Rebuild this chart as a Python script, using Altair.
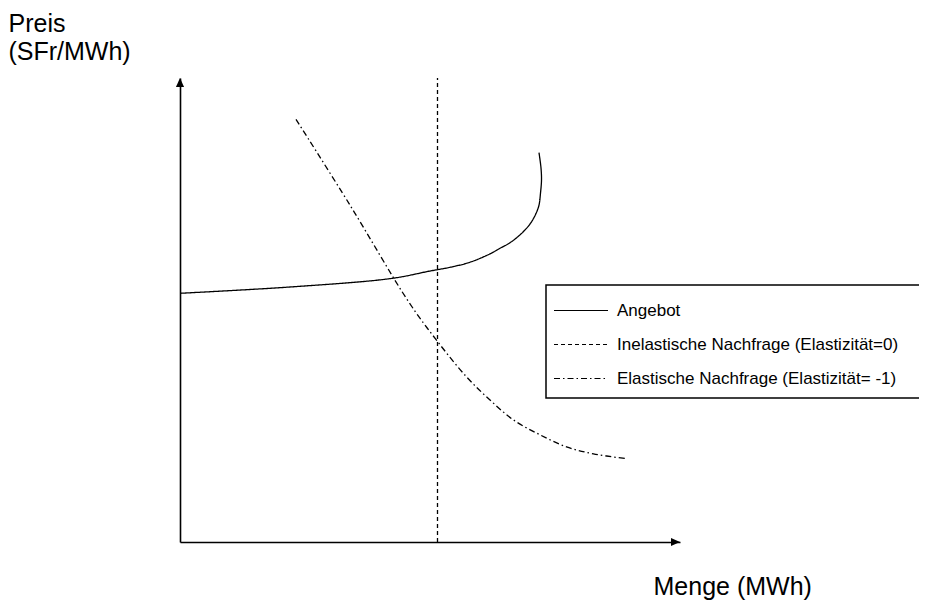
import altair as alt
import pandas as pd

# ---- data (arbitrary units: quantity 0-100, price 0-100) ----
series_names = [
    "Angebot",
    "Inelastische Nachfrage (Elastizität=0)",
    "Elastische Nachfrage (Elastizität= -1)",
]

supply_x = [0, 22.6, 42.3, 50.0, 54.0, 58.0, 62.0, 64.0, 66.0, 68.0, 69.3, 70.3, 71.2,
            71.8, 72.1, 72.3, 72.2, 71.8]
supply_y = [53.6, 55.0, 56.8, 58.4, 59.2, 60.3, 62.1, 63.3, 64.5, 66.2, 67.6, 69.0, 70.8,
            72.6, 75.2, 78.0, 80.6, 83.9]

inelastic_x = [51.5, 51.5]
inelastic_y = [0, 100]

elastic_x = [23.2, 34.0, 45.7, 51.3, 57.3, 62.0, 66.7, 72.0, 77.3, 82.7, 89.0]
elastic_y = [91.1, 72.6, 51.8, 43.5, 35.6, 30.6, 26.3, 23.1, 20.5, 19.0, 18.0]

arrow_dir = ["x", "y"]
arrow_x = [100, 0]
arrow_y = [0, 100]

dash_patterns = [[1, 0], [4, 3], [6, 3, 1.5, 3]]

x_title = "Menge (MWh)"
y_title = ["Preis", "(SFr/MWh)"]

# ---- tables ----
rows = []
for name, xs, ys in zip(series_names,
                        [supply_x, inelastic_x, elastic_x],
                        [supply_y, inelastic_y, elastic_y]):
    for i, (xv, yv) in enumerate(zip(xs, ys)):
        rows.append({"series": name, "idx": i, "q": xv, "p": yv})
lines_df = pd.DataFrame(rows)
arrows_df = pd.DataFrame({"dir": arrow_dir, "q": arrow_x, "p": arrow_y})

FONT = "Liberation Sans"

x_enc = alt.X(
    "q:Q",
    scale=alt.Scale(domain=[0, 100], nice=False, zero=False),
    axis=alt.Axis(
        title=x_title, labels=False, ticks=False, grid=False,
        domainColor="black", domainWidth=1.6,
        titleX=473, titleY=52, titleAlign="left", titleBaseline="alphabetic",
        titleFont=FONT, titleFontSize=25, titleFontWeight="normal", titleColor="black",
    ),
)
y_enc = alt.Y(
    "p:Q",
    scale=alt.Scale(domain=[0, 100], nice=False, zero=False),
    axis=alt.Axis(
        title=y_title, labels=False, ticks=False, grid=False,
        domainColor="black", domainWidth=1.6,
        titleAngle=0, titleX=-172, titleY=-47, titleAlign="left",
        titleBaseline="alphabetic", titleLineHeight=28,
        titleFont=FONT, titleFontSize=25, titleFontWeight="normal", titleColor="black",
    ),
)

# small invisible padding so the legend frame runs past the right edge, as in the reference
pad_expr = "datum.label + '" + "\u00a0" * 4 + "\u200b'"

lines = alt.Chart(lines_df).mark_line(
    color="black", strokeWidth=1.3, interpolate="catmull-rom"
).encode(
    x=x_enc,
    y=y_enc,
    order="idx:Q",
    strokeDash=alt.StrokeDash(
        "series:N",
        scale=alt.Scale(domain=series_names, range=dash_patterns),
        legend=alt.Legend(
            title=None, orient="none", legendX=366, legendY=207,
            labelExpr=pad_expr,
        ),
        sort=series_names,
    ),
)

arrows = alt.Chart(arrows_df).mark_point(
    filled=True, color="black", opacity=1, size=324, strokeWidth=0
).encode(
    x=alt.X("q:Q"),
    y=alt.Y("p:Q"),
    shape=alt.Shape(
        "dir:N",
        scale=alt.Scale(
            domain=["x", "y"],
            range=["M0,0L-1,-0.45L-1,0.45Z", "M0,0L-0.45,1L0.45,1Z"],
        ),
        legend=None,
    ),
)

chart = alt.layer(lines, arrows).properties(
    width=500,
    height=464,
    padding={"left": 172, "top": 70, "right": 239, "bottom": 59},
    autosize=alt.AutoSizeParams(type="none"),
).configure_view(
    strokeWidth=0
).configure_legend(
    strokeColor="black",
    strokeWidth=1.5,
    fillColor="white",
    padding=11,
    symbolType="M-1.296,0H2.704",
    symbolSize=729,
    symbolStrokeWidth=1.2,
    symbolStrokeColor="black",
    symbolFillColor="transparent",
    labelFont=FONT,
    labelFontSize=17,
    labelColor="black",
    labelOffset=31,
    labelLimit=0,
    rowPadding=11,
)

chart.save("out.html", embed_options={"renderer": "svg", "actions": False})
